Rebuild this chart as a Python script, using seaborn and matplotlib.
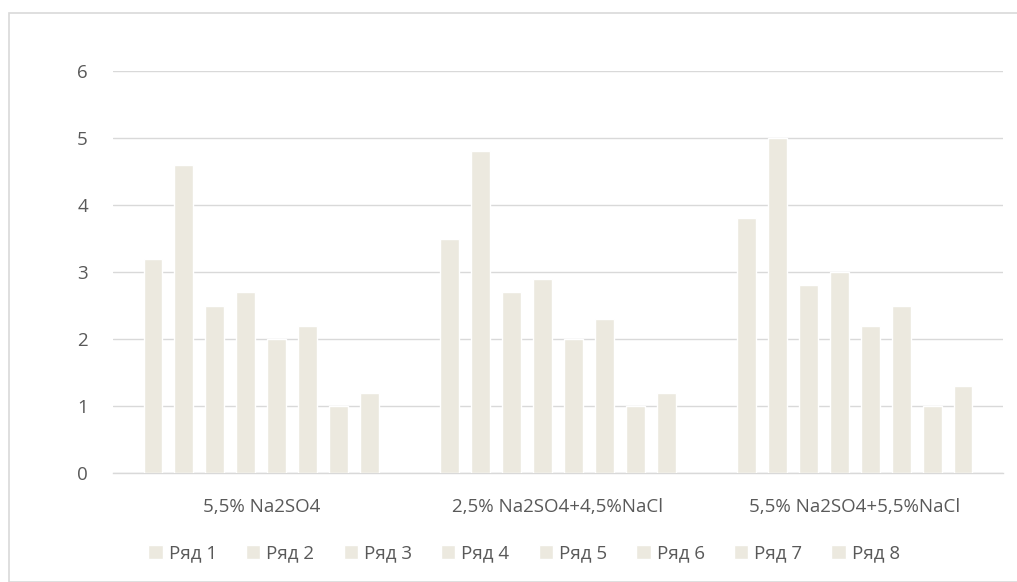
import numpy as np
import pandas as pd
import matplotlib
matplotlib.use("Agg")
import matplotlib.pyplot as plt
import seaborn as sns
from matplotlib.patches import Rectangle

# data
categories = ["5,5% Na2SO4", "2,5% Na2SO4+4,5%NaCl", "5,5% Na2SO4+5,5%NaCl"]
series = ["Ряд 1", "Ряд 2", "Ряд 3", "Ряд 4", "Ряд 5", "Ряд 6", "Ряд 7", "Ряд 8"]
values_g1 = [3.2, 4.6, 2.5, 2.7, 2.0, 2.2, 1.0, 1.2]
values_g2 = [3.5, 4.8, 2.7, 2.9, 2.0, 2.3, 1.0, 1.2]
values_g3 = [3.8, 5.0, 2.8, 3.0, 2.2, 2.5, 1.0, 1.3]
y_ticks = [0, 1, 2, 3, 4, 5, 6]

BAR = "#ECE9DF"
TXT = "#595959"
GRID = "#D9D9D9"
FS = 13.5

sns.set_theme(style="white")
plt.rcParams['font.family'] = ['Open Sans', 'DejaVu Sans']

rows = []
for cat, vals in zip(categories, [values_g1, values_g2, values_g3]):
    for s, v in zip(series, vals):
        rows.append({"cat": cat, "series": s, "value": v})
df = pd.DataFrame(rows)

fig = plt.figure(figsize=(10.17, 5.82), dpi=100)
ax = fig.add_axes([113 / 1017, 1 - 473 / 582, 890 / 1017, (473 - 71) / 582])

sns.barplot(data=df, x="cat", y="value", hue="series", order=categories,
            hue_order=series, palette=[BAR] * len(series), width=0.835,
            gap=0.39, saturation=1, ax=ax, zorder=3)

ax.set_ylim(0, 6)
ax.set_xlim(-0.5, 2.5)
ax.set_yticks(y_ticks)
ax.set_yticklabels([str(t) for t in y_ticks])
ax.yaxis.grid(True, color=GRID, lw=1, zorder=0)
ax.set_axisbelow(True)
for sp in ["top", "right", "left"]:
    ax.spines[sp].set_visible(False)
ax.spines["bottom"].set_color(GRID)
ax.spines["bottom"].set_linewidth(1)
ax.tick_params(axis="both", length=0, colors=TXT, labelsize=FS)
ax.tick_params(axis="y", pad=18)
ax.tick_params(axis="x", pad=18)
ax.set_xlabel("")
ax.set_ylabel("")

handles, labels = ax.get_legend_handles_labels()
ax.legend(handles, labels, ncol=8, loc="upper center",
          bbox_to_anchor=(0.462, -0.135), frameon=False, fontsize=FS,
          labelcolor=TXT, handlelength=0.76, handleheight=0.76,
          handletextpad=0.33, columnspacing=1.55)

# chart frame
fig.patches.append(Rectangle((9 / 1017, 0), 1.2, 1 - 13 / 582,
                             transform=fig.transFigure, fill=False,
                             edgecolor="#D9D9D9", lw=1.2))

fig.savefig("out.png", dpi=100)
